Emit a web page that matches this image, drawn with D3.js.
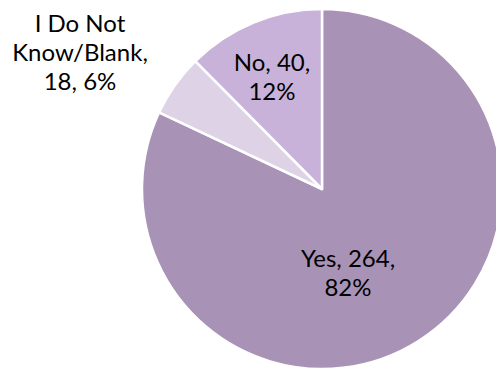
<!DOCTYPE html>
<html><head><meta charset="utf-8">
<script src="https://cdn.jsdelivr.net/npm/d3@7"></script>
<style>body{margin:0;background:#fff}svg{display:block}</style>
</head><body>
<svg id="c" width="496" height="371"></svg>
<script>
const categories = ["Yes", "I Do Not Know/Blank", "No"];
const values = [264, 18, 40];
const percents = ["82%", "6%", "12%"];
const colors = ["#a893b7", "#ded2e7", "#c9b2d9"];
const labelLines = [["Yes, 264,", "82%"], ["I Do Not", "Know/Blank,", "18, 6%"], ["No, 40,", "12%"]];

const svg = d3.select("#c");
const cx = 322, cy = 189, r = 180;
const g = svg.append("g").attr("transform", `translate(${cx},${cy})`);
const pie = d3.pie().sort(null).value(d => d)(values);
const arc = d3.arc().innerRadius(0).outerRadius(r);
g.selectAll("path").data(pie).join("path")
  .attr("d", arc).attr("fill", (d, i) => colors[i])
  .attr("stroke", "#fff").attr("stroke-width", 2.5).attr("stroke-linejoin", "round");

// label anchor positions (center x, first baseline y) relative to pie center
const labelPos = [[26, 78], [-242, -157], [-50, -118]];
const lh = 29;
labelLines.forEach((lines, i) => {
  const t = svg.append("text")
    .attr("text-anchor", "middle")
    .attr("font-family", "Lato, 'Open Sans', sans-serif")
    .attr("font-size", 24).attr("fill", "#000");
  lines.forEach((s, j) => {
    t.append("tspan").attr("x", cx + labelPos[i][0]).attr("y", cy + labelPos[i][1] + j * lh).text(s);
  });
});
</script>
</body></html>
